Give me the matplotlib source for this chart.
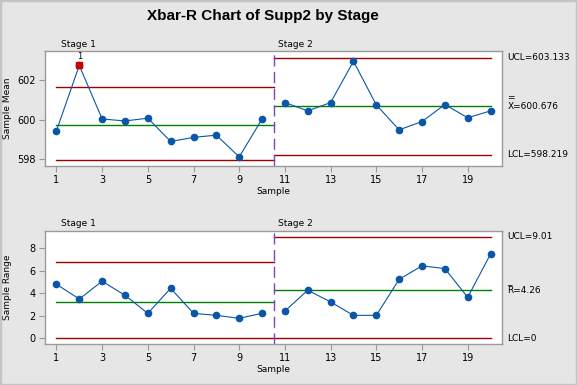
import matplotlib
matplotlib.use('Agg')
import matplotlib.pyplot as plt
import matplotlib.transforms as mtransforms
from matplotlib.patches import Rectangle

# data
samples = list(range(1, 21))
means = [599.43, 602.74, 600.03, 599.93, 600.07, 598.89, 599.10, 599.21, 598.11, 600.03,
         600.86, 600.44, 600.86, 602.95, 600.74, 599.48, 599.90, 600.76, 600.09, 600.44]
ranges = [4.80, 3.49, 5.07, 3.82, 2.22, 4.44, 2.22, 2.04, 1.78, 2.22,
          2.43, 4.27, 3.23, 2.04, 2.04, 5.24, 6.43, 6.19, 3.64, 7.49]

# control limits per stage: (x start, x end, LCL, CL, UCL)
stage_names = ['Stage 1', 'Stage 2']
stage_span = [(1, 10.5), (10.5, 20)]
xbar_limits = [(597.95, 599.73, 601.63), (598.219, 600.676, 603.133)]
r_limits = [(0.0, 3.20, 6.76), (0.0, 4.26, 9.01)]
stage_label_x = [1.2, 10.7]
divider_x = 10.5

xbar_labels = ['UCL=603.133', 'X=600.676', 'LCL=598.219']
r_labels = ['UCL=9.01', 'R=4.26', 'LCL=0']
out_points = [2]   # sample numbers flagged by test 1

BLUE = '#0a56a8'
RED = '#a00000'
GREEN = '#008000'
PURPLE = '#8040c8'
GRAY = '#9a9a9a'

plt.rcParams['font.family'] = ['DejaVu Sans']

fig = plt.figure(figsize=(5.77, 3.85), dpi=100)
fig.patch.set_facecolor('#e6e6e6')
fig.patches.append(Rectangle((0, 0), 1, 1, transform=fig.transFigure, fill=False,
                             edgecolor='#c4c4c4', lw=2.5))

fig.text(0.455, 0.958, 'Xbar-R Chart of Supp2 by Stage', ha='center', va='center',
         fontsize=11, fontweight='bold', family=['Liberation Sans', 'DejaVu Sans'])

ax1 = fig.add_axes([45/577, 1-166/385, 457/577, 115/385])
ax2 = fig.add_axes([45/577, 1-344/385, 457/577, 113.3/385])


def draw_panel(ax, values, limits, labels, ylim, yticks, ylabel, bar):
    ax.set_facecolor('white')
    for (x0, x1), (lcl, cl, ucl) in zip(stage_span, limits):
        ax.plot([x0, x1], [ucl, ucl], color=RED, lw=1)
        ax.plot([x0, x1], [lcl, lcl], color=RED, lw=1)
        ax.plot([x0, x1], [cl, cl], color=GREEN, lw=1)
    ax.axvline(divider_x, color=PURPLE, lw=1, dashes=(8, 4))
    # data, each stage joined separately
    ax.plot(samples[:10], values[:10], color=BLUE, lw=0.8, marker='o', ms=4.5)
    ax.plot(samples[10:], values[10:], color=BLUE, lw=0.8, marker='o', ms=4.5)
    ax.set_xlim(0.5, 20.5)
    ax.set_ylim(*ylim)
    ax.set_xticks(range(1, 21, 2))
    ax.set_yticks(yticks)
    ax.tick_params(labelsize=7, color=GRAY, length=4, width=0.8, pad=2.5)
    for s in ax.spines.values():
        s.set_color(GRAY)
        s.set_linewidth(1)
    ax.set_ylabel(ylabel, fontsize=6.5)
    ax.yaxis.set_label_coords(-0.072, 0.5)
    ax.set_xlabel('Sample', fontsize=6.5, labelpad=1.5)
    tr = mtransforms.blended_transform_factory(ax.transData, ax.transAxes)
    for name, sx in zip(stage_names, stage_label_x):
        ax.text(sx, 1.02, name, transform=tr, fontsize=6.5, va='bottom')
    # right-hand limit labels use the stage 2 values
    tr2 = mtransforms.blended_transform_factory(ax.transAxes, ax.transData)
    lcl, cl, ucl = limits[1]
    ax.text(1.012, ucl, labels[0], transform=tr2, fontsize=6.5, va='center')
    ax.text(1.012, cl, labels[1], transform=tr2, fontsize=6.5, va='center')
    ax.text(1.012, lcl, labels[2], transform=tr2, fontsize=6.5, va='center')
    off = mtransforms.offset_copy(tr2, fig=fig, x=0, y=9, units='dots')
    ax.text(1.012, cl, bar, transform=off, fontsize=6.5, va='center')


draw_panel(ax1, means, xbar_limits, xbar_labels, (597.65, 603.47), [598, 600, 602],
           'Sample Mean', '=')
draw_panel(ax2, ranges, r_limits, r_labels, (-0.5, 9.55), [0, 2, 4, 6, 8],
           'Sample Range', '_')

# flagged points
for p in out_points:
    ax1.plot(p, means[p-1], marker='s', color='#cc0000', ms=4.8, zorder=5)
    ax1.annotate('1', (p, means[p-1]), xytext=(0, 3.5), textcoords='offset points',
                 ha='center', va='bottom', fontsize=6)

fig.savefig('out.png', dpi=100, facecolor=fig.get_facecolor())
